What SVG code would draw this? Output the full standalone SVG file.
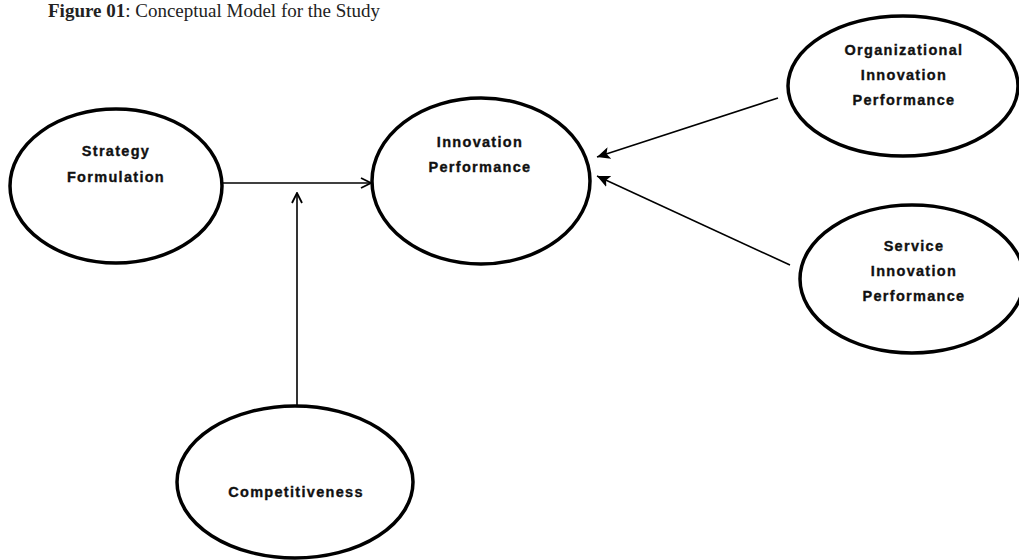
<svg xmlns="http://www.w3.org/2000/svg" width="1019" height="560" viewBox="0 0 1019 560">
<style>
.n{fill:#fff;stroke:#000;stroke-width:3.5}
.t{font-family:"Liberation Sans",Arial,sans-serif;font-weight:bold;font-size:14.5px;letter-spacing:1.3px;text-anchor:middle;fill:#111;stroke:#111;stroke-width:0.35}
.c{stroke:#000;stroke-width:1.6;fill:none}
</style>
<defs>
<marker id="open" viewBox="0 0 12 12" refX="11" refY="6" markerWidth="12" markerHeight="12" markerUnits="userSpaceOnUse" orient="auto">
<path d="M1,1 L11,6 L1,11" fill="none" stroke="#000" stroke-width="1.8"/>
</marker>
<marker id="solid" viewBox="0 0 14 12" refX="13" refY="6" markerWidth="14" markerHeight="12" markerUnits="userSpaceOnUse" orient="auto">
<path d="M0,0 L13,6 L0,12 L3,6 Z" fill="#000"/>
</marker>
</defs>
<rect width="1019" height="560" fill="#fff"/>
<text x="48" y="17" font-family="Liberation Serif,Times New Roman,serif" font-size="19" fill="#222"><tspan font-weight="bold">Figure 01</tspan>: Conceptual Model for the Study</text>
<g id="connectors">
<line class="c" x1="222" y1="183" x2="371" y2="183" marker-end="url(#open)"/>
<line class="c" x1="297" y1="407" x2="297" y2="193" marker-end="url(#open)"/>
<line class="c" x1="778" y1="98" x2="597" y2="157" marker-end="url(#solid)"/>
<line class="c" x1="790" y1="265" x2="597" y2="176" marker-end="url(#solid)"/>
</g>
<g id="strategy">
<ellipse class="n" cx="116" cy="186" rx="106" ry="77"/>
<text class="t" x="116" y="156">Strategy</text>
<text class="t" x="116" y="182">Formulation</text>
</g>
<g id="innovation">
<ellipse class="n" cx="481" cy="181" rx="109" ry="83"/>
<text class="t" x="480" y="147">Innovation</text>
<text class="t" x="480" y="172">Performance</text>
</g>
<g id="organizational">
<ellipse class="n" cx="903" cy="86" rx="115" ry="70"/>
<text class="t" x="904" y="55">Organizational</text>
<text class="t" x="904" y="80">Innovation</text>
<text class="t" x="904" y="105">Performance</text>
</g>
<g id="service">
<ellipse class="n" cx="912" cy="279" rx="112" ry="74"/>
<text class="t" x="914" y="251">Service</text>
<text class="t" x="914" y="276">Innovation</text>
<text class="t" x="914" y="301">Performance</text>
</g>
<g id="competitiveness">
<ellipse class="n" cx="295" cy="482" rx="118" ry="76"/>
<text class="t" x="296" y="497">Competitiveness</text>
</g>
</svg>
